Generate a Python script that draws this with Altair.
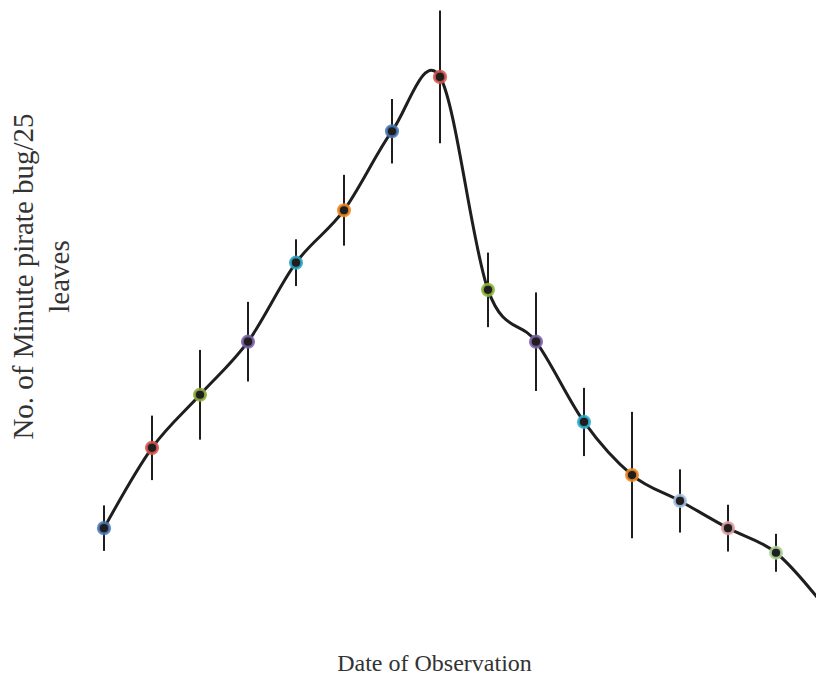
import altair as alt
import pandas as pd

obs = list(range(1, 17))
counts = [1.77, 3.04, 3.88, 4.72, 5.97, 6.80, 8.05, 8.91, 5.54, 4.72, 3.45, 2.61, 2.20, 1.77, 1.38, 0.54]
errs = [0.36, 0.51, 0.71, 0.63, 0.37, 0.56, 0.51, 1.05, 0.59, 0.78, 0.54, 1.00, 0.50, 0.37, 0.30, 0.30]
point_colors = ["#4a78b5", "#d9534f", "#8fae3a", "#7e5fa8", "#2aa4c6", "#f28a23",
                "#4a78b5", "#d9534f", "#8fb93e", "#7e5fa8", "#2aaed0", "#f28a23",
                "#a9c3e3", "#e0a3a3", "#b3d69a", "#b9acd9"]

df = pd.DataFrame({
    "obs": obs,
    "count": counts,
    "lo": [c - e for c, e in zip(counts, errs)],
    "hi": [c + e for c, e in zip(counts, errs)],
})

FONT = "Liberation Serif"

x_enc = alt.X("obs:Q", scale=alt.Scale(domain=[0.5, 15.8333], nice=False, zero=False),
              axis=alt.Axis(title="Date of Observation", labels=False, ticks=False,
                            domain=False, grid=False, titleX=354, titleY=30,
                            titleAlign="center", titleBaseline="alphabetic",
                            titleFont=FONT, titleFontSize=24, titleFontWeight="normal",
                            titleColor="#333333"))
y_scale = alt.Scale(domain=[0, 10], nice=False)
y_axis = alt.Axis(title=["No. of Minute pirate bug/25", "leaves"], labels=False, ticks=False,
                  domain=False, grid=False, titleAngle=270, titleX=-48, titleY=268,
                  titleAlign="center", titleBaseline="alphabetic", titleLineHeight=36,
                  titleFont=FONT, titleFontSize=29, titleFontWeight="normal",
                  titleColor="#333333")

base = alt.Chart(df)

line = base.mark_line(interpolate="cardinal", color="#1e1e1e", strokeWidth=3).encode(
    x=x_enc, y=alt.Y("count:Q", scale=y_scale, axis=y_axis))

bars = base.mark_rule(color="#1e1e1e", strokeWidth=2).encode(
    x="obs:Q", y=alt.Y("lo:Q", scale=y_scale), y2="hi:Q")

pts = base.mark_point(shape="circle", filled=False, fill="#1e1e1e", fillOpacity=1,
                      strokeWidth=3, size=125, opacity=1, strokeOpacity=0.85).encode(
    x="obs:Q", y=alt.Y("count:Q", scale=y_scale),
    stroke=alt.Stroke("obs:N", scale=alt.Scale(domain=obs, range=point_colors), legend=None))

chart = alt.layer(line, bars, pts).properties(
    width=736, height=632,
    autosize=alt.AutoSizeParams(type="none"),
    padding={"left": 72, "top": 0, "right": 0, "bottom": 36},
).configure_view(stroke=None)

chart.save("out.html", embed_options={"renderer": "svg", "actions": False})
